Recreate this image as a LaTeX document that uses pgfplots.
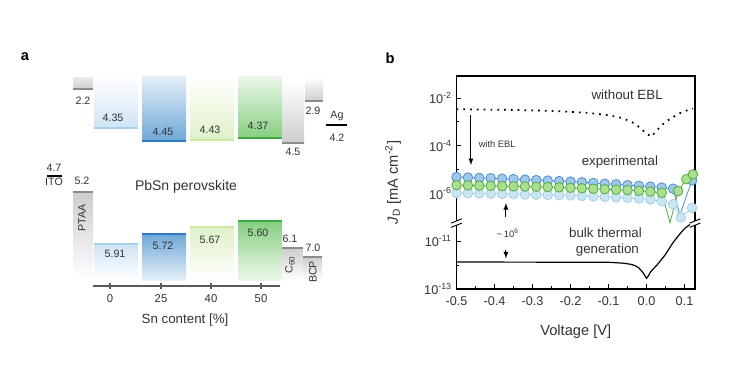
\documentclass[border=0pt]{standalone}
\usepackage{pgfplots}
\pgfplotsset{compat=1.18}
\usepackage{fontspec}
\setmainfont{Liberation Sans}

\definecolor{txt}{HTML}{333333}
% panel a colours
\definecolor{bZline}{HTML}{A9D1EE}\definecolor{bZfill}{HTML}{CFE4F4}
\definecolor{bTline}{HTML}{2F79BF}\definecolor{bTfill}{HTML}{6EA8D8}\definecolor{bTlight}{HTML}{E5EFF8}
\definecolor{gFline}{HTML}{CBE7A6}\definecolor{gFfill}{HTML}{DFF1C8}
\definecolor{gSline}{HTML}{3AA845}\definecolor{gSfill}{HTML}{86CF80}\definecolor{gSlight}{HTML}{EDF8EB}
\definecolor{grline}{HTML}{8C8C8C}\definecolor{grfill}{HTML}{CDCDCD}
% panel b colours
\definecolor{blE}{HTML}{4A8FD0}\definecolor{blF}{HTML}{9FC8EA}
\definecolor{grE}{HTML}{4FAE3F}\definecolor{grF}{HTML}{A8E08F}
\definecolor{lbE}{HTML}{A3CFE4}\definecolor{lbF}{HTML}{CAE6F2}

\begin{document}
\begin{tikzpicture}
\useasboundingbox (0,0) rectangle (552.75pt,-276pt);
\node[font=\bfseries\fontsize{11}{13}\selectfont] at (18.75pt,-42.75pt) {a};
\node[font=\bfseries\fontsize{11}{13}\selectfont] at (292.5pt,-43.5pt) {b};

% ---------------- panel a ----------------
\begin{axis}[
  at={(69.75pt,-214.5pt)}, anchor=south west,
  scale only axis, width=140.25pt, height=162pt,
  xmin=93, xmax=280, ymin=0, ymax=216,
  clip=false,
  axis x line*=bottom, axis y line=none,
  axis line style={draw=black!65, line width=0.8pt},
  xtick={110,161,211,261}, xticklabels={0,25,40,50},
  tick align=center, major tick length=4pt,
  xtick style={draw=black!65, line width=0.8pt},
  xticklabel style={font=\fontsize{8.5}{10}\selectfont, text=txt, yshift=-1pt},
  xlabel={Sn content [\%]},
  every axis x label/.style={at={(axis description cs:0.492,-0.157)}, anchor=center, font=\fontsize{10}{12}\selectfont, text=txt},
]
% upper (conduction) boxes
\addplot[draw=none, top color=white, bottom color=bZfill] coordinates {(94,210) (138,210) (138,158) (94,158) (94,210)};
\addplot[draw=none, top color=bTlight, bottom color=bTfill] coordinates {(142,210) (186,210) (186,145) (142,145) (142,210)};
\addplot[draw=none, top color=white, bottom color=gFfill] coordinates {(190,210) (234,210) (234,146) (190,146) (190,210)};
\addplot[draw=none, top color=gSlight, bottom color=gSfill] coordinates {(238,210) (282,210) (282,148) (238,148) (238,210)};
\addplot[bZline, line width=1.4pt] coordinates {(94,158) (138,158)};
\addplot[bTline, line width=1.4pt] coordinates {(142,145) (186,145)};
\addplot[gFline, line width=1.4pt] coordinates {(190,146) (234,146)};
\addplot[gSline, line width=1.4pt] coordinates {(238,148) (282,148)};
% lower (valence) boxes
\addplot[draw=none, top color=bZfill, bottom color=white] coordinates {(94,42) (138,42) (138,6) (94,6) (94,42)};
\addplot[draw=none, top color=bTfill, bottom color=bTlight] coordinates {(142,52) (186,52) (186,6) (142,6) (142,52)};
\addplot[draw=none, top color=gFfill, bottom color=white] coordinates {(190,59) (234,59) (234,6) (190,6) (190,59)};
\addplot[draw=none, top color=gSfill, bottom color=gSlight] coordinates {(238,65) (282,65) (282,6) (238,6) (238,65)};
\addplot[bZline, line width=1.4pt] coordinates {(94,42) (138,42)};
\addplot[bTline, line width=1.4pt] coordinates {(142,52) (186,52)};
\addplot[gFline, line width=1.4pt] coordinates {(190,59) (234,59)};
\addplot[gSline, line width=1.4pt] coordinates {(238,65) (282,65)};
% transport layers (gray)
\addplot[draw=none, top color=grfill!40, bottom color=grfill] coordinates {(73,209) (93,209) (93,197) (73,197) (73,209)};
\addplot[draw=none, top color=grfill, bottom color=white] coordinates {(73,94) (93,94) (93,6) (73,6) (73,94)};
\addplot[draw=none, top color=white, bottom color=grfill] coordinates {(282,205) (304,205) (304,143) (282,143) (282,205)};
\addplot[draw=none, top color=grfill, bottom color=white] coordinates {(282,38) (303,38) (303,6) (282,6) (282,38)};
\addplot[draw=none, top color=white, bottom color=grfill] coordinates {(305,209) (323,209) (323,185) (305,185) (305,209)};
\addplot[draw=none, top color=grfill, bottom color=white] coordinates {(303,29) (322,29) (322,6) (303,6) (303,29)};
\addplot[grline, line width=1.4pt] coordinates {(73,197) (93,197)};
\addplot[grline, line width=1.4pt] coordinates {(73,94) (93,94)};
\addplot[grline, line width=1.4pt] coordinates {(282,143) (304,143)};
\addplot[grline, line width=1.4pt] coordinates {(282,38) (303,38)};
\addplot[grline, line width=1.4pt] coordinates {(305,185) (323,185)};
\addplot[grline, line width=1.4pt] coordinates {(303,29) (322,29)};
% electrodes
\addplot[black, line width=1.4pt] coordinates {(47,110) (62,110)};
\addplot[black, line width=1.4pt] coordinates {(326,161) (347,161)};
% labels
\begin{scope}[every node/.style={font=\fontsize{8}{9.6}\selectfont, text=txt, inner sep=0pt}]
\node at (axis cs:83,185) {2.2};
\node at (axis cs:113,168) {4.35};
\node at (axis cs:163,154) {4.45};
\node at (axis cs:210,156) {4.43};
\node at (axis cs:258,160) {4.37};
\node at (axis cs:293,134) {4.5};
\node at (axis cs:313,175) {2.9};
\node at (axis cs:337,170) {Ag};
\node at (axis cs:337,148) {4.2};
\node at (axis cs:54,118) {4.7};
\node at (axis cs:54,104) {ITO};
\node at (axis cs:82,105) {5.2};
\node at (axis cs:115,32) {5.91};
\node at (axis cs:163,40) {5.72};
\node at (axis cs:210,46) {5.67};
\node at (axis cs:258,53) {5.60};
\node at (axis cs:290,47) {6.1};
\node at (axis cs:313,38) {7.0};
\node[rotate=90] at (axis cs:82,68) {PTAA};
\node[rotate=90] at (axis cs:290,21) {C\textsubscript{60}};
\node[rotate=90] at (axis cs:313,14) {BCP};
\end{scope}
\node[font=\fontsize{10.5}{12}\selectfont, text=txt] at (axis cs:186,99) {PbSn perovskite};
\end{axis}

% ---------------- panel b ----------------
\begin{axis}[
  at={(342.375pt,-216.75pt)}, anchor=south west,
  scale only axis, width=178.875pt, height=159.75pt,
  xmin=-0.5, xmax=0.1276, ymin=-10, ymax=-1.08,
  clip=false,
  axis line style={line width=0.8pt},
  xtick={-0.5,-0.4,-0.3,-0.2,-0.1,0,0.1},
  xticklabels={-0.5,-0.4,-0.3,-0.2,-0.1,0.0,0.1},
  minor xtick={-0.45,-0.35,-0.25,-0.15,-0.05,0.05},
  ytick={-10,-8,-6,-4,-2},
  yticklabels={10\textsuperscript{-13},10\textsuperscript{-11},10\textsuperscript{-6},10\textsuperscript{-4},10\textsuperscript{-2}},
  minor ytick={-9,-5,-3},
  xtick pos=lower, ytick pos=left, tick align=inside,
  major tick length=3.5pt, minor tick length=2pt,
  every tick/.style={black, line width=0.7pt},
  xticklabel style={font=\fontsize{9.5}{11}\selectfont, text=txt, yshift=-2pt},
  yticklabel style={font=\fontsize{9.5}{11}\selectfont, text=txt},
  xlabel={Voltage [V]},
  ylabel={\textit{J}\textsubscript{D} [mA cm\textsuperscript{-2}]},
  every axis x label/.style={at={(axis description cs:0.5,-0.2)}, anchor=center, font=\fontsize{11}{13}\selectfont, text=txt},
  every axis y label/.style={at={(axis description cs:-0.266,0.5)}, rotate=90, anchor=center, font=\fontsize{11}{13}\selectfont, text=txt},
]
% without EBL (dotted)
\addplot[black, line width=1.3pt, dash pattern=on 1.3pt off 3.8pt] coordinates {
(-0.5,-2.47) (-0.45,-2.48) (-0.4,-2.49) (-0.35,-2.50) (-0.3,-2.52) (-0.25,-2.54)
(-0.2,-2.58) (-0.15,-2.63) (-0.1,-2.72) (-0.07,-2.82) (-0.05,-2.93) (-0.03,-3.08)
(-0.01,-3.35) (0.0,-3.5) (0.013,-3.62) (0.025,-3.4) (0.04,-3.14) (0.055,-2.95)
(0.07,-2.8) (0.09,-2.62) (0.11,-2.5) (0.122,-2.45)};
% bulk thermal generation
\addplot[black, line width=0.9pt] coordinates {
(-0.5,-8.87) (-0.1,-8.88) (-0.06,-8.92) (-0.04,-8.97) (-0.03,-9.02) (-0.02,-9.12)
(-0.01,-9.3) (0,-9.55) (0.005,-9.45) (0.01,-9.3) (0.02,-9.12) (0.03,-8.95)
(0.04,-8.75) (0.05,-8.55) (0.06,-8.3) (0.07,-8.05) (0.08,-7.85) (0.09,-7.65)
(0.1,-7.47) (0.11,-7.35) (0.119,-7.24)};
% light blue series
\addplot[lbE, line width=0.6pt] coordinates {
(-0.50,-5.98) (-0.47,-5.99) (-0.44,-6.00) (-0.41,-6.01) (-0.38,-6.02) (-0.35,-6.03)
(-0.32,-6.04) (-0.29,-6.05) (-0.26,-6.06) (-0.23,-6.07) (-0.20,-6.08) (-0.17,-6.10)
(-0.14,-6.12) (-0.11,-6.14) (-0.08,-6.16) (-0.05,-6.18) (-0.02,-6.21) (0.01,-6.25)
(0.04,-6.32) (0.07,-6.45) (0.09,-7.0) (0.12,-6.6)};
\addplot[only marks, mark=*, mark size=3.6pt, mark options={fill=lbF, draw=lbE, line width=0.6pt}] coordinates {
(-0.50,-5.98) (-0.47,-5.99) (-0.44,-6.00) (-0.41,-6.01) (-0.38,-6.02) (-0.35,-6.03)
(-0.32,-6.04) (-0.29,-6.05) (-0.26,-6.06) (-0.23,-6.07) (-0.20,-6.08) (-0.17,-6.10)
(-0.14,-6.12) (-0.11,-6.14) (-0.08,-6.16) (-0.05,-6.18) (-0.02,-6.21) (0.01,-6.25)
(0.04,-6.32) (0.07,-6.45) (0.09,-7.0) (0.12,-6.6)};
% blue series
\addplot[blE, line width=0.6pt] coordinates {
(-0.50,-5.31) (-0.47,-5.33) (-0.44,-5.35) (-0.41,-5.36) (-0.38,-5.38) (-0.35,-5.40)
(-0.32,-5.42) (-0.29,-5.44) (-0.26,-5.46) (-0.23,-5.48) (-0.20,-5.50) (-0.17,-5.53)
(-0.14,-5.56) (-0.11,-5.59) (-0.08,-5.62) (-0.05,-5.65) (-0.02,-5.68) (0.01,-5.71)
(0.04,-5.75) (0.07,-5.80) (0.088,-6.9) (0.105,-6.1) (0.12,-5.45)};
\addplot[only marks, mark=*, mark size=3.6pt, mark options={fill=blF, draw=blE, line width=0.6pt}] coordinates {
(-0.50,-5.31) (-0.47,-5.33) (-0.44,-5.35) (-0.41,-5.36) (-0.38,-5.38) (-0.35,-5.40)
(-0.32,-5.42) (-0.29,-5.44) (-0.26,-5.46) (-0.23,-5.48) (-0.20,-5.50) (-0.17,-5.53)
(-0.14,-5.56) (-0.11,-5.59) (-0.08,-5.62) (-0.05,-5.65) (-0.02,-5.68) (0.01,-5.71)
(0.04,-5.75) (0.07,-5.80) (0.12,-5.45)};
% green series
\addplot[grE, line width=0.6pt] coordinates {
(-0.50,-5.65) (-0.47,-5.66) (-0.44,-5.67) (-0.41,-5.68) (-0.38,-5.69) (-0.35,-5.70)
(-0.32,-5.71) (-0.29,-5.72) (-0.26,-5.73) (-0.23,-5.74) (-0.20,-5.76) (-0.17,-5.78)
(-0.14,-5.80) (-0.11,-5.82) (-0.08,-5.84) (-0.05,-5.86) (-0.02,-5.89) (0.01,-5.92)
(0.04,-5.97) (0.062,-7.22) (0.083,-5.9) (0.105,-5.4) (0.122,-5.2)};
\addplot[only marks, mark=*, mark size=3.6pt, mark options={fill=grF, draw=grE, line width=0.6pt}] coordinates {
(-0.50,-5.65) (-0.47,-5.66) (-0.44,-5.67) (-0.41,-5.68) (-0.38,-5.69) (-0.35,-5.70)
(-0.32,-5.71) (-0.29,-5.72) (-0.26,-5.73) (-0.23,-5.74) (-0.20,-5.76) (-0.17,-5.78)
(-0.14,-5.80) (-0.11,-5.82) (-0.08,-5.84) (-0.05,-5.86) (-0.02,-5.89) (0.01,-5.92)
(0.04,-5.97) (0.083,-5.9) (0.105,-5.4) (0.122,-5.2)};
% axis breaks
\fill[white] ([shift={(-4pt,-1.6pt)}]axis cs:-0.5,-7.24) rectangle ([shift={(4pt,1.6pt)}]axis cs:-0.5,-7.24);
\draw[line width=0.7pt] ([shift={(-4pt,-3.2pt)}]axis cs:-0.5,-7.24) -- ([shift={(4pt,0pt)}]axis cs:-0.5,-7.24);
\draw[line width=0.7pt] ([shift={(-4pt,0pt)}]axis cs:-0.5,-7.24) -- ([shift={(4pt,3.2pt)}]axis cs:-0.5,-7.24);
\fill[white] ([shift={(-4pt,-1.6pt)}]axis cs:0.1276,-7.24) rectangle ([shift={(4pt,1.6pt)}]axis cs:0.1276,-7.24);
\draw[line width=0.7pt] ([shift={(-4pt,-3.2pt)}]axis cs:0.1276,-7.24) -- ([shift={(4pt,0pt)}]axis cs:0.1276,-7.24);
\draw[line width=0.7pt] ([shift={(-4pt,0pt)}]axis cs:0.1276,-7.24) -- ([shift={(4pt,3.2pt)}]axis cs:0.1276,-7.24);
% annotations
\draw[-latex, line width=0.7pt] (axis cs:-0.462,-2.72) -- (axis cs:-0.462,-4.81);
\draw[-latex, line width=0.7pt] (axis cs:-0.37,-6.99) -- (axis cs:-0.37,-6.40);
\draw[-latex, line width=0.7pt] (axis cs:-0.37,-8.37) -- (axis cs:-0.37,-8.72);
\node[font=\fontsize{10}{12}\selectfont, text=txt] at (axis cs:-0.051,-1.88) {without EBL};
\node[font=\fontsize{7}{8}\selectfont, text=txt] at (axis cs:-0.393,-3.93) {with EBL};
\node[font=\fontsize{10}{12}\selectfont, text=txt] at (axis cs:-0.07,-4.69) {experimental};
\node[font=\fontsize{7}{8}\selectfont, text=txt] at (axis cs:-0.365,-7.66) {\textasciitilde\,10\textsuperscript{6}};
\node[font=\fontsize{10}{12}\selectfont, text=txt] at (axis cs:-0.108,-7.66) {bulk thermal};
\node[font=\fontsize{10}{12}\selectfont, text=txt] at (axis cs:-0.103,-8.37) {generation};
\end{axis}
\end{tikzpicture}
\end{document}
